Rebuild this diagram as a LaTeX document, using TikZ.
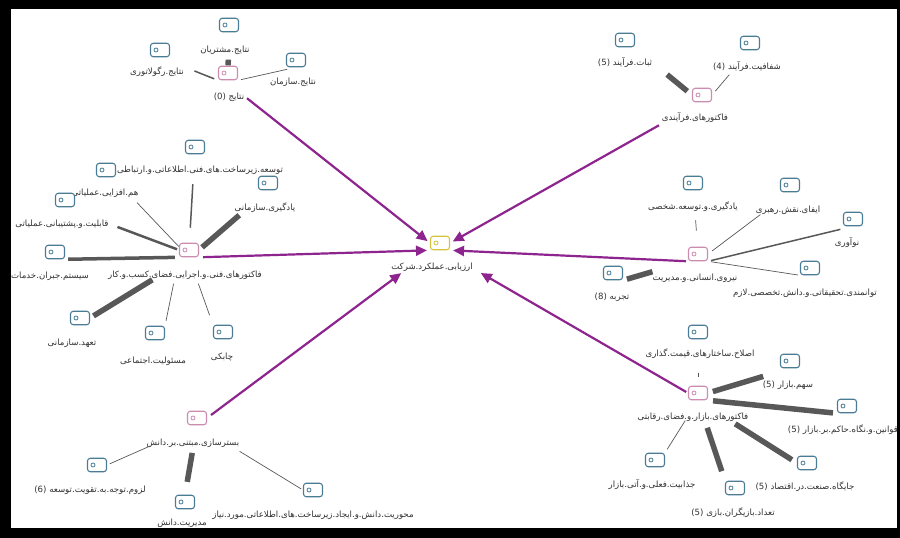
\documentclass[tikz,border=0pt]{standalone}
\usepackage{fontspec}
\usetikzlibrary{arrows.meta}
\newfontfamily\fafont[Script=Arabic]{DejaVu Sans}
\TeXXeTstate=1
\newcommand\fatx[1]{{\fafont\beginR #1\endR}}
\definecolor{leafc}{RGB}{74,124,150}
\definecolor{hubc}{RGB}{204,140,176}
\definecolor{corec}{RGB}{214,196,64}
\definecolor{relc}{RGB}{88,88,88}
\definecolor{inflc}{RGB}{142,36,142}
\definecolor{txtc}{RGB}{50,50,50}

\begin{document}
\begin{tikzpicture}[x=1pt, y=-1pt,
  icon/.style={draw=#1, fill=white, line width=1.1pt, rounded corners=2.8pt,
    minimum width=19pt, minimum height=13.5pt, inner sep=0pt,
    path picture={\draw[#1, line width=0.8pt] ([xshift=5.5pt]path picture bounding box.west) circle (2pt);}},
  leaf/.style={icon=leafc},
  hub/.style={icon=hubc},
  core/.style={icon=corec},
  lbl/.style={text=txtc, inner sep=1pt, font=\fontsize{8.6}{10}\selectfont},
  rel/.style={draw=relc},
  e1/.style={rel, line width=0.7pt},
  e2/.style={rel, line width=1.5pt},
  e3/.style={rel, line width=2.5pt},
  e4/.style={rel, line width=3.5pt},
  e5/.style={rel, line width=5.5pt},
  infl/.style={draw=inflc, line width=2.2pt, -{Triangle[length=11pt,width=10pt]}}]

% frame
\useasboundingbox (0,0) rectangle (900,538);
\fill[black] (0,0) rectangle (900,538);
\fill[white] (11,9) rectangle (897,528);

% centre
\node[core] (C) at (440,243) {};
\node[lbl] (Cl) at (432,267) {\fatx{ارزیابی.عملکرد.شرکت}};

% results
\node[hub] (H1) at (228,73) {};
\node[lbl] (H1l) at (229,97) {\fatx{نتایج \beginL(0)\endL}};
\node[leaf] (rc) at (229,25) {};
\node[lbl] (rcl) at (225,50) {\fatx{نتایج.مشتریان}};
\node[leaf] (rr) at (160,50) {};
\node[lbl] (rrl) at (157,72) {\fatx{نتایج.رگولاتوری}};
\node[leaf] (rs) at (296,60) {};
\node[lbl] (rsl) at (293,82) {\fatx{نتایج.سازمان}};
\draw[e5, shorten <=6pt, shorten >=33pt] (H1) -- (rc);
\draw[e2, shorten <=4pt, shorten >=37pt] (H1.south west) -- (rr.south);
\draw[e1, shorten <=3pt, shorten >=9pt] (H1.south east) -- (rs.south);

% process factors
\node[hub] (H2) at (702,95) {};
\node[lbl] (H2l) at (695,118) {\fatx{فاکتورهای.فرآیندی}};
\node[leaf] (p1) at (625,40) {};
\node[lbl] (p1l) at (625,63) {\fatx{ثبات.فرآیند \beginL(5)\endL}};
\node[leaf] (p2) at (750,43) {};
\node[lbl] (p2l) at (747,67) {\fatx{شفافیت.فرآیند \beginL(4)\endL}};
\draw[e5, shorten <=6pt, shorten >=43pt] (H2.west) -- (p1);
\draw[e1, shorten <=5pt, shorten >=32pt] (H2.east) -- (p2.south);

% technical factors
\node[hub] (H3) at (189,250) {};
\node[lbl] (H3l) at (185,275) {\fatx{فاکتورهای.فنی.و.اجرایی.فضای.کسب.و.کار}};
\node[leaf] (t1) at (195,147) {};
\node[lbl] (t1l) at (200,170) {\fatx{توسعه.زیرساخت.های.فنی.اطلاعاتی.و.ارتباطی}};
\node[leaf] (t2) at (106,170) {};
\node[lbl] (t2l) at (105,193) {\fatx{هم.افزایی.عملیاتی}};
\node[leaf] (t3) at (65,200) {};
\node[lbl] (t3l) at (62,224) {\fatx{قابلیت.و.پشتیبانی.عملیاتی}};
\node[leaf] (t4) at (55,252) {};
\node[lbl] (t4l) at (50,276) {\fatx{سیستم.جبران.خدمات}};
\node[leaf] (t5) at (268,183) {};
\node[lbl] (t5l) at (265,208) {\fatx{یادگیری.سازمانی}};
\node[leaf] (t6) at (80,318) {};
\node[lbl] (t6l) at (72,343) {\fatx{تعهد.سازمانی}};
\node[leaf] (t7) at (155,333) {};
\node[lbl] (t7l) at (153,361) {\fatx{مسئولیت.اجتماعی}};
\node[leaf] (t8) at (223,332) {};
\node[lbl] (t8l) at (222,357) {\fatx{چابکی}};
\draw[e2, shorten <=15pt, shorten >=30pt] (H3) -- (t1);
\draw[e1, shorten <=15pt, shorten >=35pt] (H3.south) -- (t2);
\draw[e3, shorten <=2pt, shorten >=56pt] (H3.west) -- (t3.south);
\draw[e4, shorten <=4pt, shorten >=3pt] (H3.south west) -- (t4.south east);
\draw[e5, shorten <=4pt, shorten >=38pt] (H3.east) -- (t5.south);
\draw[e5, shorten <=43pt, shorten >=4pt] (H3.south) -- (t6.east);
\draw[e1, shorten <=27pt, shorten >=5pt] (H3.south west) -- (t7.north east);
\draw[e1, shorten <=28pt, shorten >=10pt] (H3.south) -- (t8.north west);

% human resources
\node[hub] (H4) at (698,254) {};
\node[lbl] (H4l) at (695,278) {\fatx{نیروی.انسانی.و.مدیریت}};
\node[leaf] (h1) at (693,183) {};
\node[lbl] (h1l) at (693,207) {\fatx{یادگیری.و.توسعه.شخصی}};
\node[leaf] (h2) at (790,185) {};
\node[lbl] (h2l) at (788,210) {\fatx{ایفای.نقش.رهبری}};
\node[leaf] (h3) at (853,219) {};
\node[lbl] (h3l) at (847,243) {\fatx{نوآوری}};
\node[leaf] (h4) at (810,268) {};
\node[lbl] (h4l) at (805,293) {\fatx{توانمندی.تحقیقاتی.و.دانش.تخصصی.لازم}};
\node[leaf] (h5) at (613,273) {};
\node[lbl] (h5l) at (612,297) {\fatx{تجربه \beginL(8)\endL}};
\draw[e1, shorten <=16pt, shorten >=30pt] (H4) -- (h1);
\draw[e1, shorten <=5pt, shorten >=37pt] (H4.east) -- (h2.south);
\draw[e2, shorten <=3pt, shorten >=13pt] (H4.south east) -- (h3.south);
\draw[e1, shorten <=3pt, shorten >=2pt] (H4.south east) -- (h4.south west);
\draw[e5, shorten <=37pt, shorten >=4pt] (H4.south west) -- (h5.south east);

% market factors
\node[hub] (H5) at (698,393) {};
\node[lbl] (H5l) at (693,417) {\fatx{فاکتورهای.بازار.و.فضای.رقابتی}};
\node[leaf] (m1) at (698,332) {};
\node[lbl] (m1l) at (700,354) {\fatx{اصلاح.ساختارهای.قیمت.گذاری}};
\node[leaf] (m2) at (790,361) {};
\node[lbl] (m2l) at (788,385) {\fatx{سهم.بازار \beginL(5)\endL}};
\node[leaf] (m3) at (847,406) {};
\node[lbl] (m3l) at (843,430) {\fatx{قوانین.و.نگاه.حاکم.بر.بازار \beginL(5)\endL}};
\node[leaf] (m4) at (655,460) {};
\node[lbl] (m4l) at (652,485) {\fatx{جذابیت.فعلی.و.آتی.بازار}};
\node[leaf] (m5) at (735,488) {};
\node[lbl] (m5l) at (733,513) {\fatx{تعداد.بازیگران.بازی \beginL(5)\endL}};
\node[leaf] (m6) at (807,463) {};
\node[lbl] (m6l) at (805,487) {\fatx{جایگاه.صنعت.در.اقتصاد \beginL(5)\endL}};
\draw[e1, shorten <=13pt, shorten >=38pt] (H5) -- (m1);
\draw[e5, shorten <=5pt, shorten >=28pt] (H5.east) -- (m2.south);
\draw[e5, shorten <=5pt, shorten >=4pt] (H5.south east) -- (m3.south west);
\draw[e1, shorten <=24pt, shorten >=4pt] (H5.south) -- (m4.north east);
\draw[e5, shorten <=29pt, shorten >=10pt] (H5.south) -- (m5.north west);
\draw[e5, shorten <=44pt, shorten >=6pt] (H5.south) -- (m6.west);

% knowledge
\node[hub] (H6) at (197,418) {};
\node[lbl] (H6l) at (193,443) {\fatx{بسترسازی.مبتنی.بر.دانش}};
\node[leaf] (k1) at (97,465) {};
\node[lbl] (k1l) at (90,490) {\fatx{لزوم.توجه.به.تقویت.توسعه \beginL(6)\endL}};
\node[leaf] (k2) at (185,502) {};
\node[lbl] (k2l) at (182,523) {\fatx{مدیریت.دانش}};
\node[leaf] (k3) at (313,490) {};
\node[lbl] (k3l) at (313,515) {\fatx{محوریت.دانش.و.ایجاد.زیرساخت.های.اطلاعاتی.مورد.نیاز}};
\draw[e1, shorten <=51pt, shorten >=3pt] (H6.south) -- (k1.east);
\draw[e5, shorten <=28pt, shorten >=13pt] (H6.south) -- (k2.north);
\draw[e1, shorten <=50pt, shorten >=2pt] (H6.south) -- (k3.west);

% links to the centre
\draw[infl, shorten <=2pt, shorten >=3pt] (H1l.east) -- (C.west);
\draw[infl, shorten <=2pt, shorten >=3pt] (H2l.south west) -- (C.east);
\draw[infl, shorten <=4pt, shorten >=3pt] (H3.south east) -- (C.south west);
\draw[infl, shorten <=2pt, shorten >=3pt] (H4.south west) -- (C.south east);
\draw[infl, shorten <=2pt, shorten >=1pt] (H5.west) -- ([xshift=6pt]Cl.south east);
\draw[infl, shorten <=5pt, shorten >=1pt] (H6.east) -- ([xshift=12pt]Cl.south west);
\end{tikzpicture}
\end{document}
